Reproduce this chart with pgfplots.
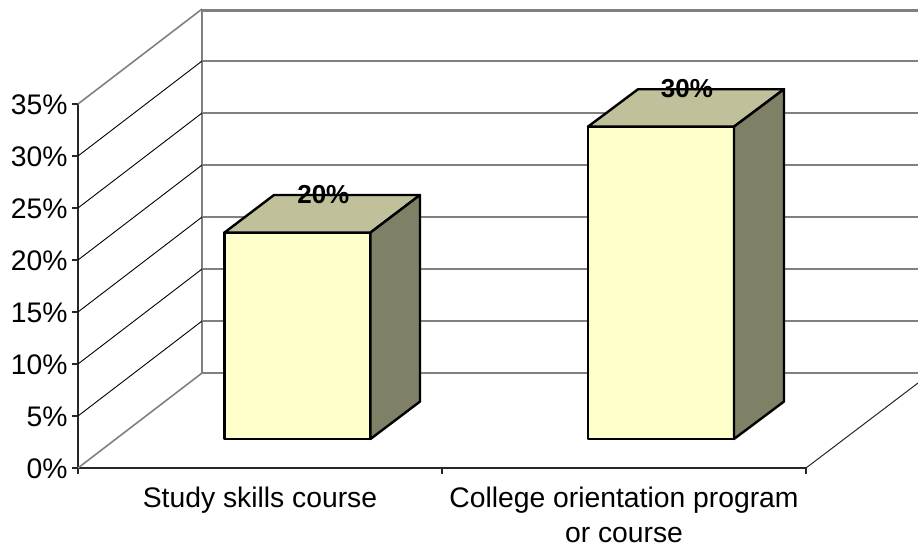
\documentclass[border=0pt]{standalone}
\usepackage{pgfplots}
\pgfplotsset{compat=1.18}
\usepackage{fontspec}
\setmainfont{Liberation Sans}
\definecolor{wall}{HTML}{808080}
\definecolor{barfront}{HTML}{FFFFCC}
\definecolor{bartop}{HTML}{C0C09A}
\definecolor{barside}{HTML}{808066}
\begin{document}
\begin{tikzpicture}[x=1pt,y=1pt]
\path[use as bounding box] (-78,-77) rectangle (840,468);
\begin{axis}[
  at={(0,0)}, anchor=origin,
  scale only axis, width=728pt, height=364pt,
  xmin=0, xmax=2, ymin=0, ymax=35,
  axis x line*=bottom, axis y line*=left,
  axis line style={draw=black!85, line width=1.3pt, -},
  tick align=outside,
  ytick={0,5,10,15,20,25,30,35},
  yticklabel={\pgfmathprintnumber{\tick}\%},
  xtick={0,1,2}, xticklabels={},
  extra x ticks={0.5,1.5},
  extra x tick labels={Study skills course,{College orientation program\\or course}},
  extra x tick style={tick style={draw=none}, xticklabel style={align=center, inner sep=0pt, yshift=-13pt}},
  major tick length=6pt,
  tick style={draw=black!85, line width=1.1pt},
  tick label style={font=\fontsize{28.3}{34.5}\selectfont},
  /pgf/number format/assume math mode=true,
  yticklabel style={xshift=-1pt, yshift=-1pt},
  clip=false,
  axis on top=false,
]
% back wall gridlines
\addplot[wall, line width=1.6pt] coordinates {(0.3407,9.13) (2.3077,9.13)};
\addplot[wall, line width=1.6pt] coordinates {(0.3407,14.13) (2.3077,14.13)};
\addplot[wall, line width=1.6pt] coordinates {(0.3407,19.13) (2.3077,19.13)};
\addplot[wall, line width=1.6pt] coordinates {(0.3407,24.13) (2.3077,24.13)};
\addplot[wall, line width=1.6pt] coordinates {(0.3407,29.13) (2.3077,29.13)};
\addplot[wall, line width=1.6pt] coordinates {(0.3407,34.13) (2.3077,34.13)};
\addplot[wall, line width=1.6pt] coordinates {(0.3407,39.13) (2.3077,39.13)};
\addplot[wall, line width=3.2pt] coordinates {(0.3407,44) (2.3077,44)};
\addplot[wall, line width=2.4pt] coordinates {(0.3407,9.13) (0.3407,44.1)};
% side wall gridlines
\addplot[black, line width=0.9pt] coordinates {(0,5) (0.3407,14.13)};
\addplot[black, line width=0.9pt] coordinates {(0,10) (0.3407,19.13)};
\addplot[black, line width=0.9pt] coordinates {(0,15) (0.3407,24.13)};
\addplot[black, line width=0.9pt] coordinates {(0,20) (0.3407,29.13)};
\addplot[black, line width=0.9pt] coordinates {(0,25) (0.3407,34.13)};
\addplot[black, line width=0.9pt] coordinates {(0,30) (0.3407,39.13)};
\addplot[wall, line width=1.6pt] coordinates {(0,35) (0.3407,44.13)};
\addplot[wall, line width=1.6pt] coordinates {(0,0) (0.3407,9.13)};
% floor right edge
\addplot[black!85, line width=1pt] coordinates {(2,0) (2.3077,8.17)};
% bar 1 (20%)
\addplot[fill=barfront, draw=black, line width=2.4pt, line join=round] coordinates {(0.4025,2.79) (0.8036,2.79) (0.8036,22.64) (0.4025,22.64)} --cycle;
\addplot[fill=bartop, draw=black, line width=2.4pt, line join=round] coordinates {(0.4025,22.64) (0.8036,22.64) (0.9396,26.25) (0.5385,26.25)} --cycle;
\addplot[fill=barside, draw=black, line width=2.4pt, line join=round] coordinates {(0.8036,2.79) (0.9396,6.39) (0.9396,26.25) (0.8036,22.64)} --cycle;
% bar 2 (30%)
\addplot[fill=barfront, draw=black, line width=2.4pt, line join=round] coordinates {(1.4011,2.79) (1.8022,2.79) (1.8022,32.82) (1.4011,32.82)} --cycle;
\addplot[fill=bartop, draw=black, line width=2.4pt, line join=round] coordinates {(1.4011,32.82) (1.8022,32.82) (1.9396,36.42) (1.5385,36.42)} --cycle;
\addplot[fill=barside, draw=black, line width=2.4pt, line join=round] coordinates {(1.8022,2.79) (1.9396,6.39) (1.9396,36.42) (1.8022,32.82)} --cycle;
\node[font=\bfseries\fontsize{26}{30}\selectfont, inner sep=0pt] at (axis cs:0.674,26.25) {20\%};
\node[font=\bfseries\fontsize{26}{30}\selectfont, inner sep=0pt] at (axis cs:1.673,36.45) {30\%};
\end{axis}
\end{tikzpicture}
\end{document}
